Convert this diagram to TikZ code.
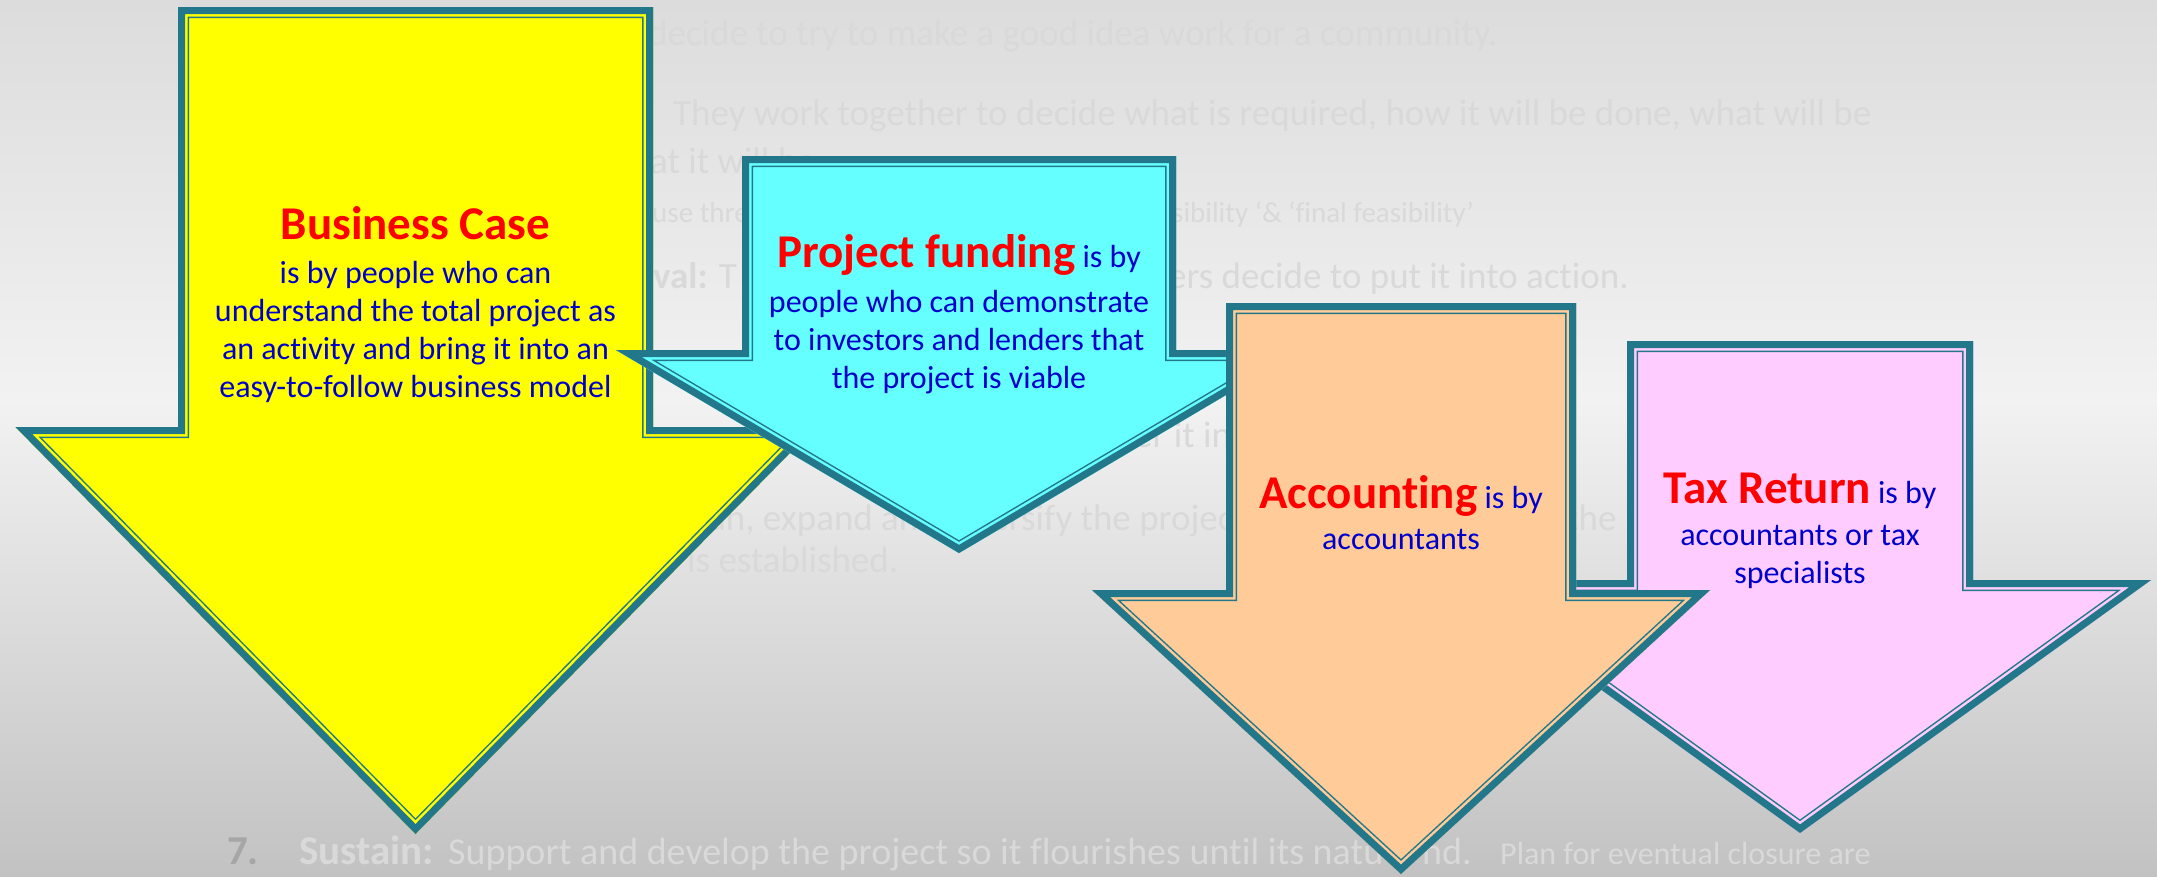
\documentclass[tikz,border=0pt]{standalone}
\usepackage{fontspec}
\setmainfont{Carlito}[Ligatures={NoCommon,NoRequired,NoContextual}]
\definecolor{arrline}{HTML}{22788A}
\definecolor{ayellow}{HTML}{FFFF00}
\definecolor{acyan}{HTML}{66FFFF}
\definecolor{aorange}{HTML}{FFCC99}
\definecolor{apink}{HTML}{FFCCFF}
\definecolor{txtblue}{HTML}{0000CC}
\definecolor{ttlred}{HTML}{FF0000}
\definecolor{bgtext}{HTML}{D9D9D9}
\definecolor{numgray}{HTML}{A6A6A6}
\definecolor{bgtop}{HTML}{DCDCDC}
\definecolor{bgmid}{HTML}{F2F2F2}
\definecolor{bgbottom}{HTML}{C2C2C2}

\newcommand\ttlfont{\color{ttlred}\bfseries\fontsize{47}{56}\selectfont}
% #1 left, #2 right, #3 top, #4 wing y, #5 centre x, #6 half head width, #7 tip y, #8 fill
\newcommand\bigarrow[8]{%
  \begin{scope}
    \clip (#1,#3) -- (#2,#3) -- (#2,#4) -- ({#5+#6},#4) -- (#5,#7) -- ({#5-#6},#4) -- (#1,#4) -- cycle;
    \fill[#8] ({#5-#6},#3) rectangle ({#5+#6},#7);
    \draw[arrline, line width=22pt] (#1,#3) -- (#2,#3) -- (#2,#4) -- ({#5+#6},#4) -- (#5,#7) -- ({#5-#6},#4) -- (#1,#4) -- cycle;
    \draw[#8, line width=19pt] (#1,#3) -- (#2,#3) -- (#2,#4) -- ({#5+#6},#4) -- (#5,#7) -- ({#5-#6},#4) -- (#1,#4) -- cycle;
    \draw[arrline, line width=14pt] (#1,#3) -- (#2,#3) -- (#2,#4) -- ({#5+#6},#4) -- (#5,#7) -- ({#5-#6},#4) -- (#1,#4) -- cycle;
  \end{scope}}

\tikzset{
  lbl/.style={anchor=base, inner sep=0pt, text=txtblue, font=\fontsize{32}{38}\selectfont},
  ttl/.style={anchor=base, inner sep=0pt, text=ttlred, font=\ttlfont},
  bgtxt/.style={anchor=base west, inner sep=0pt, text=bgtext, font=\fontsize{37}{44}\selectfont},
  bgsmall/.style={bgtxt, font=\fontsize{29}{35}\selectfont},
  bglast/.style={bgtxt, font=\fontsize{38}{45}\selectfont},
  bgbold/.style={bgtxt, font=\bfseries\fontsize{41}{48}\selectfont},
  bgplan/.style={bgtxt, font=\fontsize{32}{38}\selectfont},
}

\begin{document}
\begin{tikzpicture}[x=1pt, y=-1pt, line join=miter, miter limit=25]
\useasboundingbox (0,0) rectangle (2157,876);
\shade[top color=bgtop, bottom color=bgmid] (0,0) rectangle (2157,401);
\shade[top color=bgmid, bottom color=bgbottom] (0,400) rectangle (2157,876);

% faded slide text behind the arrows
\node[bgtxt] (s1) at (648,45) {decide to try to make a good idea work for a community.};
\node[bgtxt] (s2) at (673,125) {They work together to decide what is required, how it will be done, what will be};
\node[bgtxt] (s3) at (650,173) {at it will be};
\node[bgsmall] (s4a) at (652,222) {use three};
\node[bgsmall] (s4b) at (1172,222) {sibility ‘\& ‘final feasibility’};
\node[bgtxt] (s5a) at (653,288) {{\bfseries val:} T};
\node[bgtxt] (s5b) at (1168,288) {ers decide to put it into action.};
\node[bgtxt] (s6) at (1134,447) {er it in};
\node[bgtxt] (s7a) at (708,530) {an, expand and diversify the project};
\node[bgtxt] (s7b) at (1566,530) {the p};
\node[bgtxt] (s8) at (687,572) {is established.};
\node[bgbold, text=numgray] (s9a) at (227,864) {7.};
\node[bgbold] (s9b) at (299,864) {Sustain:};
\node[bglast] (s9c) at (448,864) {Support and develop the project so it flourishes until its natu};
\node[bglast] (s9d) at (1422,864) {nd.};
\node[bgplan] (s9e) at (1500,864) {Plan for eventual closure are};

% Business Case
\bigarrow{178}{653}{7}{427}{415.5}{400}{834}{ayellow}
\node[ttl] (bc0) at (415.5,239) {Business Case};
\node[lbl] (bc1) at (415.5,283) {is by people who can};
\node[lbl] (bc2) at (415.5,321) {understand the total project as};
\node[lbl] (bc3) at (415.5,359) {an activity and bring it into an};
\node[lbl] (bc4) at (415.5,397) {easy-to-follow business model};

% Tax Return
\bigarrow{1627}{1973}{341}{580}{1800}{351}{833}{apink}
\node[lbl] (tr0) at (1800,503) {{\ttlfont Tax Return} is by};
\node[lbl] (tr1) at (1800,545) {accountants or tax};
\node[lbl] (tr2) at (1800,583) {specialists};

% Project funding
\bigarrow{742}{1176}{156}{350}{959}{343}{553}{acyan}
\node[lbl] (pf0) at (959,267) {{\ttlfont Project funding} is by};
\node[lbl] (pf1) at (959,312) {people who can demonstrate};
\node[lbl] (pf2) at (959,350) {to investors and lenders that};
\node[lbl] (pf3) at (959,388) {the project is viable};

% Accounting
\bigarrow{1226}{1576}{303}{590}{1401}{309}{874}{aorange}
\node[lbl] (ac0) at (1401,508) {{\ttlfont Accounting} is by};
\node[lbl] (ac1) at (1401,549) {accountants};
\end{tikzpicture}
\end{document}
